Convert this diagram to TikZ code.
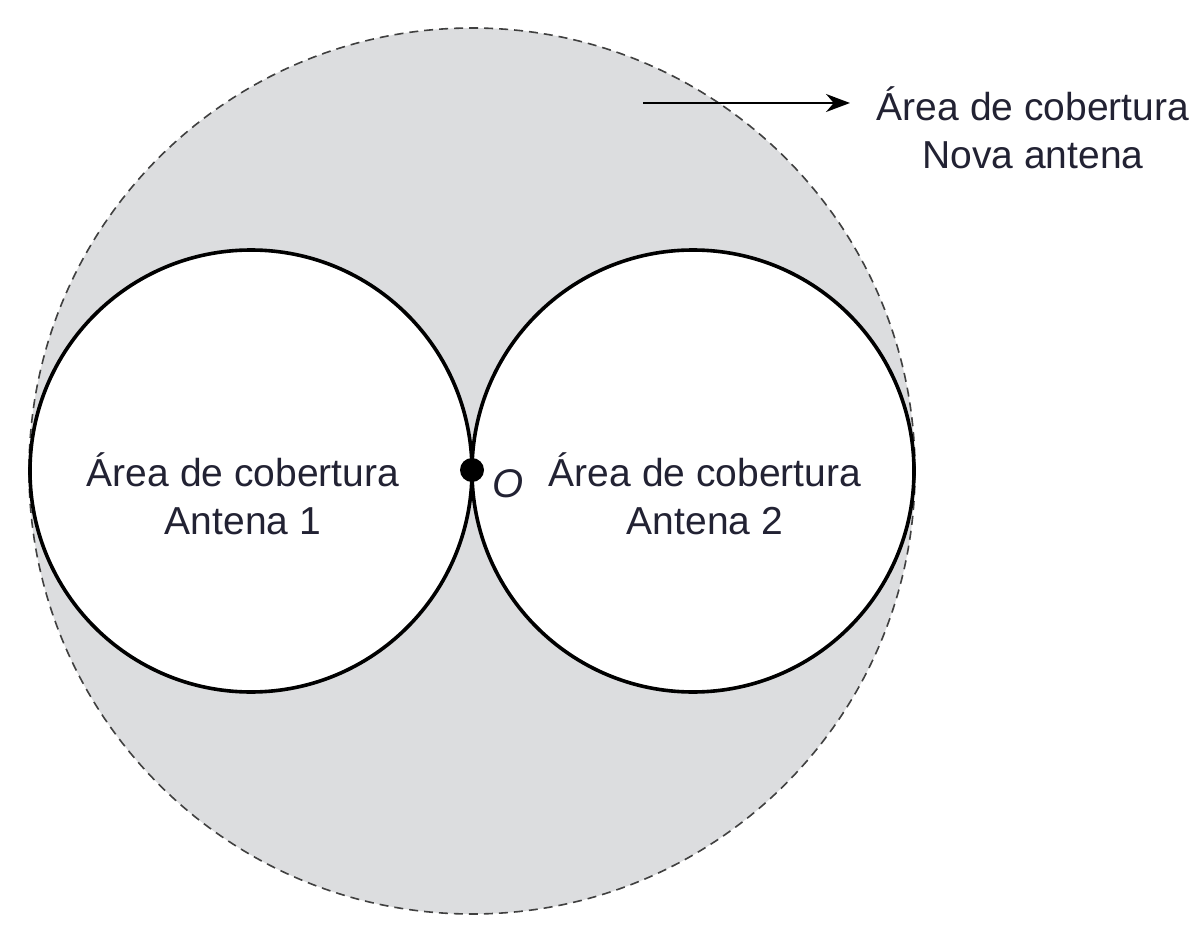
\documentclass[tikz,border=0pt]{standalone}
\usepackage{fontspec}
\setmainfont{Liberation Sans}
\usetikzlibrary{arrows.meta}
\definecolor{shade}{HTML}{DCDDDF}
\definecolor{txt}{HTML}{222233}
\begin{document}
\begin{tikzpicture}[x=1pt,y=-1pt,
  lbl/.style={align=center,text=txt,font=\fontsize{39}{48}\selectfont},
  ring/.style={draw=black,line width=3.6pt,fill=white}]
\useasboundingbox (0,0) rectangle (1200,936);
\fill[white] (0,0) rectangle (1200,936);
\draw[dash pattern=on 9pt off 6pt,draw=black!75,line width=1.6pt,fill=shade] (472,471) circle (443);
\draw[ring] (251,471) circle (221);
\draw[ring] (693,471) circle (221);
\fill (472,470) circle (12) coordinate (o);
\node[lbl,font=\fontsize{40}{48}\selectfont\itshape] (olab) at (508,484) {O};
\node[lbl] (a1) at (243,494) {Área de cobertura\\Antena 1};
\node[lbl] (a2) at (705,494) {Área de cobertura\\Antena 2};
\node[lbl] (nova) at (1033,128) {Área de cobertura\\Nova antena};
\coordinate (s) at (643,103);
\coordinate (e) at (850,103);
\draw[-{Stealth[length=24pt,width=18pt]},line width=2.2pt] (s) -- (e);
\end{tikzpicture}
\end{document}
